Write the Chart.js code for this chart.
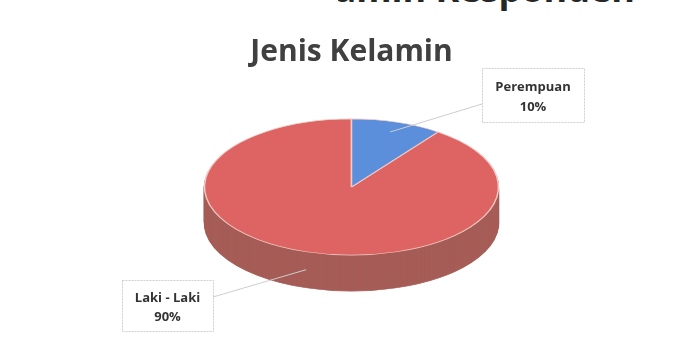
<!DOCTYPE html>
<html>
<head>
<meta charset="utf-8">
<script src="https://cdn.jsdelivr.net/npm/chart.js@4/dist/chart.umd.min.js"></script>
<style>
  html, body { margin: 0; padding: 0; background: #fff; }
  #wrap { position: relative; width: 683px; height: 340px; overflow: hidden; }
  #headClip { position: absolute; left: 338px; top: 0; width: 345px; height: 20px; overflow: hidden; }
  #heading {
    position: absolute; right: 48px; top: -36px;
    font: bold 36px "Open Sans", sans-serif; color: #262626;
    white-space: nowrap;
  }
  canvas { position: absolute; left: 0; top: 0; }
</style>
</head>
<body>
<div id="wrap">
  <div id="headClip"><div id="heading">Jenis Kelamin Responden</div></div>
  <canvas id="gender" width="683" height="340"></canvas>
</div>
<script>
const categories = ["Laki - Laki", "Perempuan"];
const shares = [90, 10];
const topColors = ["#dd6462", "#5b8fdc"];
const sideColors = ["#a65d57", "#3f659c"];

// squash the pie into an ellipse and stack darker copies underneath for the rim
const tilt = {
  id: "tilt",
  beforeDatasetsDraw(chart, args, opts) {
    const ctx = chart.ctx;
    const meta = chart.getDatasetMeta(0);
    const { x, y } = meta.data[0];
    ctx.save();
    ctx.translate(x, y);
    ctx.scale(1, opts.squash);
    ctx.translate(-x, -y);
    for (let d = opts.depth; d > 0; d--) {
      ctx.save();
      ctx.translate(0, d / opts.squash);
      meta.data.forEach((el, i) => {
        const keep = el.options;
        el.options = Object.assign({}, keep, {
          backgroundColor: sideColors[i],
          borderColor: sideColors[i],
        });
        el.draw(ctx);
        el.options = keep;
      });
      ctx.restore();
    }
  },
  afterDatasetsDraw(chart) {
    chart.ctx.restore();
  },
};

// callout boxes with leader lines
const callouts = {
  id: "callouts",
  afterDraw(chart, args, opts) {
    const ctx = chart.ctx;
    const meta = chart.getDatasetMeta(0);
    const squash = chart.options.plugins.tilt.squash;
    const depth = chart.options.plugins.tilt.depth;
    const total = shares.reduce((a, b) => a + b, 0);
    meta.data.forEach((el, i) => {
      const box = opts.boxes[i];
      const mid = (el.startAngle + el.endAngle) / 2;
      const r = el.outerRadius * box.reach;
      const ax = el.x + Math.cos(mid) * r;
      let ay = el.y + Math.sin(mid) * r * squash;
      if (box.onRim) ay += depth / 2;
      ctx.save();
      ctx.strokeStyle = "#cdcdcd";
      ctx.lineWidth = 1;
      ctx.beginPath();
      ctx.moveTo(ax, ay);
      ctx.lineTo(box.lx, box.ly);
      ctx.stroke();
      ctx.fillStyle = "#ffffff";
      ctx.fillRect(box.x, box.y, box.w, box.h);
      ctx.strokeStyle = "#cfcfcf";
      ctx.setLineDash([2, 1]);
      ctx.strokeRect(box.x + 0.5, box.y + 0.5, box.w, box.h);
      ctx.setLineDash([]);
      ctx.fillStyle = "#333333";
      ctx.font = "bold 13px 'Open Sans', sans-serif";
      ctx.textAlign = "center";
      ctx.textBaseline = "middle";
      const cx = box.x + box.w / 2;
      ctx.fillText(categories[i], cx, box.y + box.h * 0.36);
      ctx.fillText(Math.round(shares[i] / total * 100) + "%", cx, box.y + box.h * 0.73);
      ctx.restore();
    });
  },
};

new Chart(document.getElementById("gender"), {
  type: "pie",
  data: {
    labels: categories,
    datasets: [{
      data: shares,
      backgroundColor: topColors,
      borderColor: "#f2c9c4",
      borderWidth: 1.5,
      radius: 147,
      clip: false,
    }],
  },
  options: {
    responsive: false,
    animation: false,
    rotation: 36,
    layout: { padding: { left: 20, right: 0, top: 0, bottom: 46 } },
    plugins: {
      legend: { display: false },
      tooltip: { enabled: false },
      title: {
        display: true,
        text: "Jenis Kelamin",
        color: "#404040",
        font: { family: "'Open Sans', sans-serif", size: 30, weight: "bold" },
        padding: { top: 34, bottom: 10 },
      },
      tilt: { squash: 0.463, depth: 36 },
      callouts: {
        boxes: [
          { x: 122, y: 280, w: 91, h: 51, lx: 213, ly: 297, reach: 1, onRim: true },
          { x: 482, y: 68, w: 102, h: 54, lx: 482, ly: 104, reach: 0.85, onRim: false },
        ],
      },
    },
  },
  plugins: [tilt, callouts],
});
</script>
</body>
</html>
